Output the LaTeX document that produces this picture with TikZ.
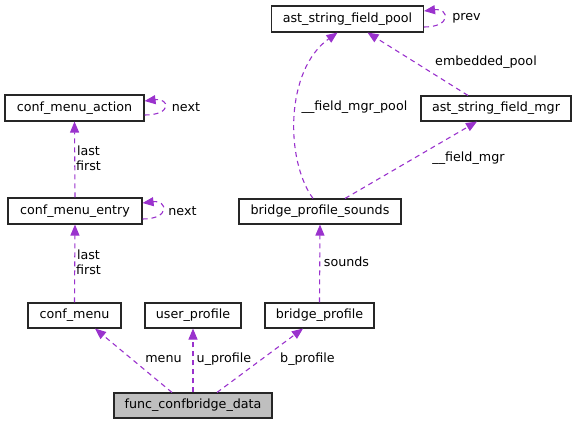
\documentclass[tikz,border=0pt]{standalone}
\usepackage{fontspec}
\setmainfont{DejaVu Sans}
\usetikzlibrary{arrows.meta}
\definecolor{edgepurple}{RGB}{154,50,205}
\definecolor{rootgrey}{RGB}{191,191,191}

\begin{document}
\begin{tikzpicture}[x=1pt, y=-1pt,
  cls/.style={draw=black!85, line width=1.1pt, fill=white, inner sep=0pt, minimum height=25pt, font=\fontsize{12.7}{15}\selectfont},
  root/.style={cls, fill=rootgrey},
  edge/.style={draw=edgepurple, line width=1.1pt, dash pattern=on 5pt off 4pt, -{Triangle[length=11pt,width=9pt]}},
  lbl/.style={font=\fontsize{12.7}{15}\selectfont, inner sep=0pt, align=center}]
  \useasboundingbox (0,0) rectangle (577,424);
  % classes
  \node[cls, minimum width=152pt, minimum height=26pt] (pool) at (347.5,19) {ast\_string\_field\_pool};
  \node[cls, minimum width=150pt] (mgr) at (496,108.5) {ast\_string\_field\_mgr};
  \node[cls, minimum width=139pt, minimum height=26pt] (action) at (74.5,108) {conf\_menu\_action};
  \node[cls, minimum width=134pt, minimum height=26pt] (entry) at (75,211) {conf\_menu\_entry};
  \node[cls, minimum width=162pt] (sounds) at (320,211.5) {bridge\_profile\_sounds};
  \node[cls, minimum width=93pt] (menu) at (74.5,315.5) {conf\_menu};
  \node[cls, minimum width=96pt] (user) at (193,315.5) {user\_profile};
  \node[cls, minimum width=109pt] (bprof) at (319.5,315.5) {bridge\_profile};
  \node[root, minimum width=158pt] (func) at (193,405.5) {func\_confbridge\_data};
  % members
  \draw[edge] ([xshift=-21pt]func.north) -- ([xshift=20.5pt]menu.south);
  \draw[edge] (func.north) -- (user.south);
  \draw[edge] ([xshift=24pt]func.north) -- ([xshift=-16.5pt]bprof.south);
  \draw[edge] (menu.north) -- (entry.south);
  \draw[edge] (entry.north) -- (action.south);
  \draw[edge] (bprof.north) -- (sounds.south);
  \draw[edge] ([xshift=-7pt]sounds.north) .. controls (285,160) and (285,70) .. ([xshift=-10pt]pool.south);
  \draw[edge] ([xshift=25pt]sounds.north) -- ([xshift=-19pt]mgr.south);
  \draw[edge] ([xshift=-28pt]mgr.north) -- ([xshift=20pt]pool.south);
  \draw[edge] ([yshift=-7pt]action.east) .. controls +(28,0) and +(25,-3) .. ([yshift=7pt]action.east);
  \draw[edge] ([yshift=-8pt]entry.east) .. controls +(28,0) and +(25,-3) .. ([yshift=8pt]entry.east);
  \draw[edge] ([yshift=-8pt]pool.east) .. controls +(28,0) and +(25,-3) .. ([yshift=8pt]pool.east);
  % labels
  \node[lbl] (lmenu) at (163.5,359) {menu};
  \node[lbl] (luser) at (224,359) {u\_profile};
  \node[lbl] (lbprof) at (307.5,359) {b\_profile};
  \node[lbl] (lentry) at (88.5,262.5) {last\\first};
  \node[lbl] (laction) at (88.5,158.5) {last\\first};
  \node[lbl] (lnexta) at (186,107) {next};
  \node[lbl] (lnexte) at (182.5,211) {next};
  \node[lbl] (lprev) at (466.5,18) {prev};
  \node[lbl] (lsounds) at (346.5,262) {sounds};
  \node[lbl] (lfmpool) at (354.5,107) {\_\_field\_mgr\_pool};
  \node[lbl] (lembed) at (486,62) {embedded\_pool};
  \node[lbl] (lfmgr) at (468.5,158) {\_\_field\_mgr};
\end{tikzpicture}
\end{document}
